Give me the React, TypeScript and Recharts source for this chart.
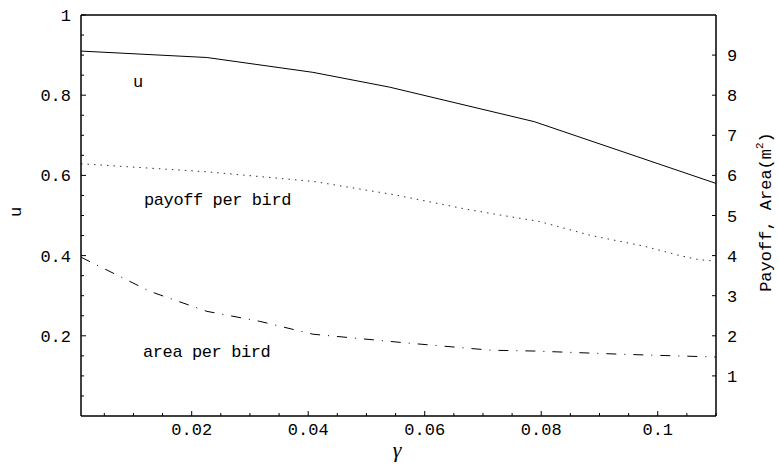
import { LineChart, Line, XAxis, YAxis, ReferenceLine, Customized } from 'recharts'

// u (left axis) against gamma
const gammaU = [0.001, 0.0226, 0.0408, 0.054, 0.0788, 0.11]
const uValues = [0.91, 0.894, 0.857, 0.82, 0.734, 0.58]

// payoff per bird (right axis)
const gammaPayoff = [0.001, 0.0226, 0.0409, 0.0547, 0.0674, 0.0726, 0.0797, 0.0886, 0.0978, 0.1038, 0.107, 0.11]
const payoffValues = [6.29, 6.09, 5.85, 5.52, 5.15, 5.02, 4.85, 4.5, 4.23, 4.0, 3.9, 3.86]

// area per bird in m^2 (right axis)
const gammaArea = [0.001, 0.0128, 0.0226, 0.0317, 0.0408, 0.057, 0.0714, 0.0788, 0.0938, 0.11]
const areaValues = [3.96, 3.11, 2.61, 2.36, 2.04, 1.82, 1.64, 1.62, 1.54, 1.47]

const xMajorTicks = [0.02, 0.04, 0.06, 0.08, 0.1]
const leftMajorTicks = [0.2, 0.4, 0.6, 0.8, 1]
const rightTicks = [1, 2, 3, 4, 5, 6, 7, 8, 9]

const xTicks: number[] = []
for (let i = 1; i <= 22; i++) xTicks.push(Number((i * 0.005).toFixed(3)))
const leftTicks: number[] = []
for (let i = 1; i <= 20; i++) leftTicks.push(Number((i * 0.05).toFixed(2)))

const uData = gammaU.map((g, i) => ({ g, v: uValues[i] }))
const payoffData = gammaPayoff.map((g, i) => ({ g, v: payoffValues[i] }))
const areaData = gammaArea.map((g, i) => ({ g, v: areaValues[i] }))

const MONO = '"Liberation Mono", "DejaVu Sans Mono", monospace'
const isMajor = (v: number, list: number[]) => list.some((m) => Math.abs(m - v) < 1e-9)

const BottomTick = ({ x, y, payload }: any) => {
  const ay = y - 4
  const major = isMajor(payload.value, xMajorTicks)
  return (
    <g>
      <line x1={x} x2={x} y1={ay} y2={ay - (major ? 5 : 3)} stroke="#000" />
      {major && (
        <text x={x} y={ay + 19} textAnchor="middle" fontFamily={MONO} fontSize={17} fill="#000">
          {String(payload.value)}
        </text>
      )}
    </g>
  )
}

const LeftTick = ({ x, y, payload }: any) => {
  const ax = x + 10
  const major = isMajor(payload.value, leftMajorTicks)
  return (
    <g>
      <line x1={ax} x2={ax + (major ? 5 : 3)} y1={y} y2={y} stroke="#000" />
      {major && (
        <text x={x} y={y + 6} textAnchor="end" fontFamily={MONO} fontSize={17} fill="#000">
          {String(payload.value)}
        </text>
      )}
    </g>
  )
}

const RightTick = ({ x, y, payload }: any) => {
  const ax = x - 11
  return (
    <g>
      <line x1={ax} x2={ax - 4} y1={y} y2={y} stroke="#000" />
      <text x={x} y={y + 6} textAnchor="start" fontFamily={MONO} fontSize={17} fill="#000">
        {String(payload.value)}
      </text>
    </g>
  )
}

const Annotations = () => (
  <g fontFamily={MONO} fontSize={17} fill="#000">
    <text x={133} y={87}>u</text>
    <text x={144} y={205} letterSpacing={-0.4}>payoff per bird</text>
    <text x={143} y={357} letterSpacing={-0.4}>area per bird</text>
    <text x={21} y={212} textAnchor="middle" transform="rotate(-90, 21, 212)">u</text>
    <text x={771} y={212} textAnchor="middle" fontSize={17} transform="rotate(-90, 771, 212)">
      Payoff, Area(m<tspan dy={-8} fontSize={11}>2</tspan><tspan dy={8}>)</tspan>
    </text>
    <text x={397} y={457} textAnchor="middle" fontFamily='"Liberation Serif", serif' fontStyle="italic" fontSize={22}>
      γ
    </text>
  </g>
)

export default function App() {
  return (
    <div style={{ position: 'absolute', left: 0, top: 0, background: '#fff' }}>
      <LineChart width={778} height={466} margin={{ top: 15, right: 0, bottom: 0, left: 0 }}>
        <XAxis
          dataKey="g"
          type="number"
          domain={[0.001, 0.11]}
          allowDataOverflow
          ticks={xTicks}
          interval={0}
          height={50}
          tickSize={0}
          tickMargin={4}
          tickLine={false}
          tick={<BottomTick />}
          axisLine={{ stroke: '#000', strokeWidth: 1.5 }}
        />
        <YAxis
          yAxisId="left"
          domain={[0, 1]}
          ticks={leftTicks}
          interval={0}
          width={81}
          tickSize={0}
          tickMargin={10}
          tickLine={false}
          tick={<LeftTick />}
          axisLine={{ stroke: '#000', strokeWidth: 1.5 }}
        />
        <YAxis
          yAxisId="right"
          orientation="right"
          domain={[0, 10]}
          ticks={rightTicks}
          interval={0}
          width={62}
          tickSize={0}
          tickMargin={11}
          tickLine={false}
          tick={<RightTick />}
          axisLine={{ stroke: '#000', strokeWidth: 1.5 }}
        />
        <ReferenceLine yAxisId="left" y={1} stroke="#000" strokeWidth={1.5} />
        <Line
          yAxisId="left"
          data={uData}
          dataKey="v"
          stroke="#000"
          strokeWidth={1}
          dot={false}
          isAnimationActive={false}
        />
        <Line
          yAxisId="right"
          data={payoffData}
          dataKey="v"
          stroke="#333"
          strokeWidth={1}
          strokeDasharray="1.5 5"
          dot={false}
          isAnimationActive={false}
        />
        <Line
          yAxisId="right"
          data={areaData}
          dataKey="v"
          stroke="#000"
          strokeWidth={1}
          strokeDasharray="10 8 1 8"
          dot={false}
          isAnimationActive={false}
        />
        <Customized component={Annotations} />
      </LineChart>
    </div>
  )
}
